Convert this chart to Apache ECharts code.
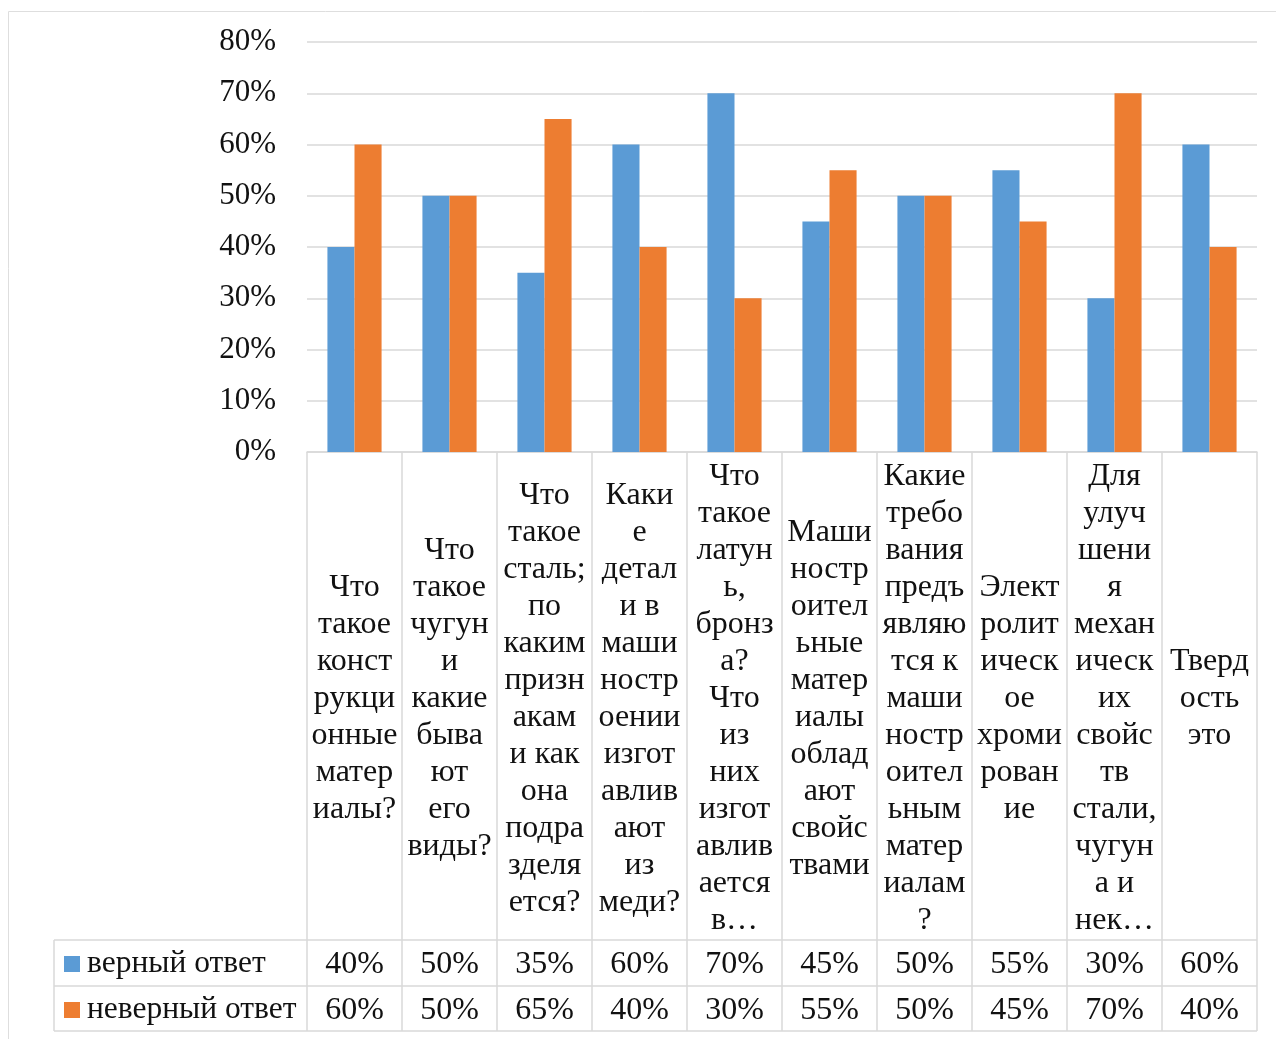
<!DOCTYPE html>
<html>
<head>
<meta charset="utf-8">
<title>Ответы на вопросы</title>
<script src="https://cdn.jsdelivr.net/npm/echarts@6/dist/echarts.min.js"></script>
<style>
  html, body { margin: 0; padding: 0; background: #fff; }
  #chart { width: 1276px; height: 1039px; }
</style>
</head>
<body>
<div id="chart"></div>
<script>
// Questions, wrapped the way the data table shows them
var categories = [
  'Что\nтакое\nконст\nрукци\nонные\nматер\nиалы?',
  'Что\nтакое\nчугун\nи\nкакие\nбыва\nют\nего\nвиды?',
  'Что\nтакое\nсталь;\nпо\nкаким\nпризн\nакам\nи как\nона\nподра\nзделя\nется?',
  'Каки\nе\nдетал\nи в\nмаши\nностр\nоении\nизгот\nавлив\nают\nиз\nмеди?',
  'Что\nтакое\nлатун\nь,\nбронз\nа?\nЧто\nиз\nних\nизгот\nавлив\nается\nв…',
  'Маши\nностр\nоител\nьные\nматер\nиалы\nоблад\nают\nсвойс\nтвами',
  'Какие\nтребо\nвания\nпредъ\nявляю\nтся к\nмаши\nностр\nоител\nьным\nматер\nиалам\n?',
  'Элект\nролит\nическ\nое\nхроми\nрован\nие',
  'Для\nулуч\nшени\nя\nмехан\nическ\nих\nсвойс\nтв\nстали,\nчугун\nа и\nнек…',
  'Тверд\nость\nэто'
];
var seriesNames = ['верный ответ', 'неверный ответ'];
var correct = [40, 50, 35, 60, 70, 45, 50, 55, 30, 60];
var wrong   = [60, 50, 65, 40, 30, 55, 50, 45, 70, 40];
var yTicks  = { min: 0, max: 80, interval: 10 };

// Layout of the plot and the data table underneath it
var FONT = "'Liberation Serif', 'Times New Roman', serif";
var FS = 32;
var TEXT = '#111';
var LINE = '#d9d9d9';
var W = 1276, H = 1039;
var plotLeft = 307, plotRight = 1257, plotTop = 42, plotBottom = 452;
var row1Top = 940, row2Top = 986, tableBottom = 1031, legendLeft = 54;
var colW = (plotRight - plotLeft) / categories.length;

var chart = echarts.init(document.getElementById('chart'), null, { renderer: 'canvas' });

function rowAxis(margin, values, showLine) {
  return {
    type: 'category',
    data: categories,
    position: 'bottom',
    gridIndex: 0,
    axisLine: showLine ? { show: true, lineStyle: { color: LINE, width: 1.5 } } : { show: false },
    axisTick: { show: false },
    splitLine: { show: false },
    axisLabel: {
      interval: 0,
      margin: margin,
      verticalAlign: 'middle',
      fontFamily: FONT,
      fontSize: FS,
      lineHeight: 37,
      color: TEXT,
      formatter: values ? function (v, i) { return values[i] + '%'; } : null
    }
  };
}

// Table borders
var graphics = [];
function hLine(x1, x2, y) {
  graphics.push({ type: 'line', silent: true, shape: { x1: x1, y1: y, x2: x2, y2: y },
    style: { stroke: LINE, lineWidth: 1.5 } });
}
function vLine(x, y1, y2) {
  graphics.push({ type: 'line', silent: true, shape: { x1: x, y1: y1, x2: x, y2: y2 },
    style: { stroke: LINE, lineWidth: 1.5 } });
}
// chart frame (top and left edges visible)
graphics.push({ type: 'rect', silent: true, shape: { x: 8.5, y: 11.5, width: W + 20, height: H + 20 },
  style: { fill: null, stroke: '#dedede', lineWidth: 1 } });
hLine(legendLeft, plotRight, row1Top);
hLine(legendLeft, plotRight, row2Top);
hLine(legendLeft, plotRight, tableBottom);
vLine(legendLeft, row1Top, tableBottom);
for (var k = 0; k <= categories.length; k++) {
  vLine(plotLeft + k * colW, plotBottom, tableBottom);
}

var midLabels = (plotBottom + row1Top) / 2 - plotBottom + 3;
var mid1 = (row1Top + row2Top) / 2 - plotBottom + 2;
var mid2 = (row2Top + tableBottom) / 2 - plotBottom + 2;

var option = {
  backgroundColor: '#fff',
  animation: false,
  color: ['#5b9bd5', '#ed7d31'],
  textStyle: { fontFamily: FONT },
  grid: {
    left: plotLeft, right: W - plotRight, top: plotTop, bottom: H - plotBottom,
    containLabel: false
  },
  legend: {
    orient: 'vertical',
    left: 64,
    top: (row1Top + row2Top) / 2 - 15,
    padding: 0,
    itemWidth: 16,
    itemHeight: 16,
    itemGap: 14,
    icon: 'rect',
    data: seriesNames,
    textStyle: { fontFamily: FONT, fontSize: 31.5, lineHeight: 32, color: TEXT, padding: [0, 0, 0, 2] }
  },
  xAxis: [
    rowAxis(midLabels, null, true),
    rowAxis(mid1, correct, false),
    rowAxis(mid2, wrong, false)
  ],
  yAxis: {
    type: 'value',
    min: yTicks.min,
    max: yTicks.max,
    interval: yTicks.interval,
    axisLine: { show: false },
    axisTick: { show: false },
    splitLine: { lineStyle: { color: LINE, width: 1.5 } },
    axisLabel: {
      margin: 31,
      fontFamily: FONT,
      fontSize: 31,
      color: TEXT,
      lineHeight: 34,
      verticalAlign: 'middle',
      padding: [4, 0, 0, 0],
      formatter: '{value}%'
    }
  },
  series: [
    {
      name: seriesNames[0], type: 'bar', xAxisIndex: 0, data: correct,
      barGap: '0%', barCategoryGap: '43%'
    },
    {
      name: seriesNames[1], type: 'bar', xAxisIndex: 0, data: wrong,
      barGap: '0%', barCategoryGap: '43%'
    }
  ],
  graphic: graphics
};

chart.setOption(option);
</script>
</body>
</html>
